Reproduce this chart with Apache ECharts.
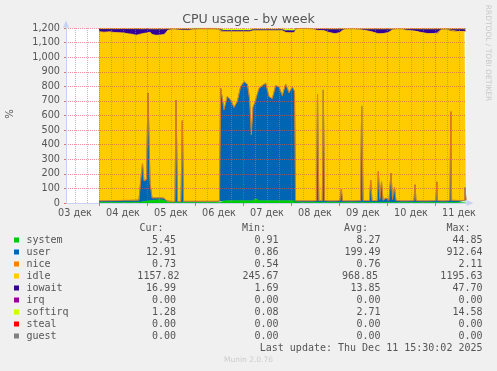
<!DOCTYPE html>
<html><head><meta charset="utf-8">
<script src="https://cdn.jsdelivr.net/npm/echarts@6/dist/echarts.min.js"></script>
<style>html,body{margin:0;padding:0;background:#f0f0f0}#c{width:497px;height:371px}</style>
</head><body><div id="c"></div>
<script>
// hours since 03 Dec 00:00
const hours = [24.0,26.5,29.5,31.5,34.0,36.5,38.5,40.5,42.5,44.0,44.75,45.75,46.5,47.75,48.5,49.5,50.5,52.5,54.5,56.5,57.5,58.5,60.5,62.0,62.5,63.25,65.0,65.65,66.25,68.5,71.0,73.5,76.5,79.5,82.0,84.25,84.85,86.5,88.15,89.85,91.5,93.15,94.85,96.5,98.15,99.25,100.15,101.0,102.35,104.0,105.65,107.35,109.0,110.65,112.35,114.0,115.65,117.35,119.0,120.65,121.75,122.25,124.5,128.5,131.5,132.75,133.25,133.9,135.65,136.15,136.75,138.5,142.0,144.5,145.15,145.75,147.5,151.5,154.75,155.35,156.0,159.25,159.85,160.5,163.15,163.65,164.4,165.25,166.0,167.5,169.0,170.0,170.75,171.75,172.5,175.5,178.0,181.5,182.0,182.5,185.0,188.5,192.5,192.9,193.3,195.0,197.5,199.5,199.9,200.3,203.5,206.75,207.0,207.5];
const system = [4,4,4,4,4,5,5,5,5,5,6,8,10,12,14,16,18,20,22,18,10,3,3,3,4,3,3,4,3,3,3,3,3,3,3,4,14,14,15,15,15,15,15,15,15,15,15,15,30,15,15,15,15,15,15,15,15,15,15,15,15,5,4,4,4,4,5,4,4,5,4,4,4,4,5,4,4,4,4,5,4,4,5,4,4,5,4,5,4,4,4,5,4,5,4,4,4,4,5,4,4,4,4,5,4,4,4,4,6,4,5,5,5,5.45];
const user = [10,10,11,11,12,12,12,13,14,14,130,260,140,150,740,120,16,14,13,15,8,4,5,6,700,8,6,560,8,8,8,8,8,8,8,8,772,624,714,691,640,680,782,817,800,700,451,640,676,770,790,805,714,700,790,780,720,800,740,780,750,10,10,10,10,12,740,12,12,770,12,10,10,12,90,10,10,10,12,660,12,12,150,12,12,210,20,140,14,30,14,200,20,100,12,10,10,12,120,12,10,10,12,140,12,10,10,14,620,14,12,12,100,12.91];
const nice = [0.7,0.7,0.7,0.7,0.7,2.0,2.0,0.7,0.7,0.7,0.7,0.7,0.7,0.7,0.7,0.7,0.7,0.7,0.7,0.7,0.7,0.7,0.7,0.7,0.7,0.7,0.7,0.7,0.7,0.7,0.7,0.7,0.7,0.7,0.7,0.7,0.7,0.7,0.7,0.7,0.7,0.7,0.7,0.7,0.7,0.7,0.7,0.7,0.7,0.7,0.7,0.7,0.7,0.7,0.7,0.7,0.7,0.7,0.7,0.7,0.7,0.7,0.7,0.7,0.7,0.7,0.7,0.7,0.7,0.7,0.7,0.7,0.7,0.7,0.7,0.7,0.7,0.7,0.7,0.7,0.7,0.7,0.7,0.7,0.7,0.7,0.7,0.7,0.7,0.7,0.7,0.7,0.7,0.7,0.7,0.7,0.7,0.7,0.7,0.7,0.7,0.7,0.7,0.7,0.7,0.7,0.7,0.7,0.7,0.7,0.7,0.7,0.7,0.73];
const idle = [1160,1157,1158,1154,1151,1147,1141,1139,1130,1136,1021,893,1014,1003,415,1035,1121,1115,1116,1121,1151,1178,1181,1180,485,1176,1176,621,1174,1173,1178,1181,1182,1182,1181,1177,388,536,445,468,519,479,377,342,359,459,708,527,476,397,377,362,453,467,377,387,447,354,412,372,404,1176,1179,1179,1177,1169,439,1167,1166,407,1165,1157,1146,1153,1079,1170,1178,1178,1173,522,1169,1161,1020,1157,1146,946,1136,1015,1143,1131,1153,979,1165,1086,1176,1178,1169,1163,1054,1163,1155,1147,1145,1017,1148,1174,1176,1169,558,1161,1158,1159,1071,1157.82];
const iowait = [20,23,21,25,27,29,35,37,45,39,36,32,30,29,25,22,37,43,41,38,24,9,6,6,6,8,9,9,9,10,6,3,2,2,3,4,8,8,8,8,8,8,8,8,8,8,8,6,6,6,6,6,6,6,6,6,6,12,14,14,12,4,3,3,4,10,11,12,12,12,13,22,33,24,19,10,3,3,5,6,8,16,18,20,31,32,33,33,32,28,22,9,4,3,3,3,10,15,15,15,24,32,32,31,29,6,4,7,10,15,18,17,17,16.99];
const softirq = [1,1,1,1,1,1,1,1,1,1,1,1,1,1,1,1,2,2,2,2,1,1,1,1,1,1,1,1,1,1,2,3,3,3,3,3,10,10,10,10,10,10,10,10,10,10,10,8,8,8,8,8,8,8,8,8,8,12,12,12,10,2,1,1,1,1,1,1,1,1,1,1,1,1,1,1,1,1,1,1,1,1,1,1,1,1,1,1,1,1,1,1,1,1,1,1,1,1,1,1,1,1,1,1,1,1,1,1,1,1,1,1.3,1.3,1.28];

const dayLabels = ['03 дек','04 дек','05 дек','06 дек','07 дек','08 дек','09 дек','10 дек','11 дек'];

const legendNames = ['system','user','nice','idle','iowait','irq','softirq','steal','guest'];
const legendColors = ['#00CC00','#0066B3','#FF8000','#FFCC00','#330099','#990099','#CCFF00','#FF0000','#808080'];
const curVals = ['5.45','12.91','0.73','1157.82','16.99','0.00','1.28','0.00','0.00'];
const minVals = ['0.91','0.86','0.54','245.67','1.69','0.00','0.08','0.00','0.00'];
const avgVals = ['8.27','199.49','0.76','968.85','13.85','0.00','2.71','0.00','0.00'];
const maxVals = ['44.85','912.64','2.11','1195.63','47.70','0.00','14.58','0.00','0.00'];

const chart = echarts.init(document.getElementById('c'), null, {renderer:'canvas'});

const T0 = Date.UTC(2025, 11, 3, 0, 0, 0);
const H = 3600 * 1000;
const tOf = h => T0 + h * H;

// half-hour slots spanning the plot (07:30 Dec 3 .. 15:30 Dec 11)
const slots = Array.from({length: 401}, (_, i) => String(i));
const isDay = i => i % 48 === 33;
const isSix = i => i % 12 === 9 && !isDay(i);
const isNoon = i => i % 48 === 9;

const axisCol = '#c9d1f5';
const mgrid = 'rgba(222,80,80,0.6)';
const grid6 = 'rgba(140,140,140,0.6)';
const txt = '#555';

function mk(name, arr, color) {
  return {
    name, type: 'line', xAxisIndex: 0, yAxisIndex: 0, stack: 'cpu',
    data: hours.map((h, i) => [tOf(h), arr[i]]),
    symbol: 'none', showSymbol: false, silent: true,
    lineStyle: {width: 0.8, color},
    areaStyle: {color, opacity: 1},
    itemStyle: {color}, z: 2
  };
}

const graphics = [];
graphics.push({type:'text', x:248.5, y:19.5, style:{text:'CPU usage - by week', align:'center', verticalAlign:'middle', fontSize:12.6, fontFamily:'DejaVu Sans', fill:txt}});
graphics.push({type:'text', x:10, y:114, rotation:Math.PI/2, style:{text:'%', align:'center', verticalAlign:'middle', fontSize:10, fontFamily:'DejaVu Sans', fill:txt}});
graphics.push({type:'text', x:488, y:53, rotation:-Math.PI/2, style:{text:'RRDTOOL / TOBI OETIKER', align:'center', verticalAlign:'middle', fontSize:7.5, fontFamily:'DejaVu Sans', fill:'#c8c8c8'}});

const mono = 'DejaVu Sans Mono';
const headers = [['Cur:',163.5],['Min:',266],['Avg:',368],['Max:',470.5]];
headers.forEach(([t, x]) => graphics.push({type:'text', x, y:228, style:{text:t, align:'right', verticalAlign:'middle', fontSize:10, fontFamily:mono, fill:txt}}));
legendNames.forEach((n, i) => {
  const y = 240 + i * 12;
  graphics.push({type:'rect', shape:{x:14, y:y-2.5, width:5, height:5}, style:{fill:legendColors[i]}});
  graphics.push({type:'text', x:26.5, y, style:{text:n, align:'left', verticalAlign:'middle', fontSize:10, fontFamily:mono, fill:txt}});
  const cols = [[curVals[i], n === 'idle' ? 179.5 : 176], [minVals[i], 278.5], [avgVals[i], n === 'idle' ? 378 : 380.5], [maxVals[i], 482.5]];
  cols.forEach(([t, x]) => graphics.push({type:'text', x, y, style:{text:t, align:'right', verticalAlign:'middle', fontSize:10, fontFamily:mono, fill:txt}}));
});
graphics.push({type:'text', x:482.5, y:348, style:{text:'Last update: Thu Dec 11 15:30:02 2025', align:'right', verticalAlign:'middle', fontSize:10, fontFamily:mono, fill:txt}});
graphics.push({type:'text', x:248.5, y:360.5, style:{text:'Munin 2.0.76', align:'center', verticalAlign:'middle', fontSize:7.5, fontFamily:'DejaVu Sans', fill:'#cccccc'}});

chart.setOption({
  animation: false,
  backgroundColor: '#f0f0f0',
  grid: {left: 66, right: 31, top: 28, bottom: 168, show: true, backgroundColor: '#ffffff', borderWidth: 0},
  xAxis: [
    {type:'time', min:tOf(7.5), max:tOf(207.5), show:false, position:'bottom'},
    {type:'category', data:slots, boundaryGap:false, position:'bottom', z:3,
      axisLine:{show:false}, axisTick:{show:false}, axisLabel:{show:false},
      splitLine:{show:true, interval:(i)=>isSix(i), lineStyle:{color:grid6, width:1, type:[1,1]}}},
    {type:'category', data:slots, boundaryGap:false, position:'bottom', z:3,
      axisLine:{show:true, onZero:false, lineStyle:{color:axisCol, width:1}, symbol:['none','triangle'], symbolSize:[6,7], symbolOffset:[0,4]},
      axisTick:{show:true, interval:(i)=>isDay(i), length:3, lineStyle:{color:'rgba(222,80,80,0.8)'}},
      axisLabel:{show:true, interval:(i)=>isNoon(i), formatter:(v)=>dayLabels[(Number(v)-9)/48] || '', color:txt, fontSize:9.7, fontFamily:'DejaVu Sans', margin:5},
      splitLine:{show:true, interval:(i)=>isDay(i), lineStyle:{color:mgrid, width:1, type:[1,1]}}}
  ],
  yAxis: {type:'value', min:0, max:1200, interval:100, z:3,
    axisLine:{show:true, onZero:false, lineStyle:{color:axisCol, width:1}, symbol:['none','triangle'], symbolSize:[6,7], symbolOffset:[0,4]},
    axisTick:{show:true, length:2, lineStyle:{color:'rgba(222,80,80,0.8)'}},
    axisLabel:{color:txt, fontSize:9.7, fontFamily:'DejaVu Sans', margin:6},
    splitLine:{show:true, lineStyle:{color:mgrid, width:1, type:[1,1]}}},
  series: [
    mk('system', system, '#00CC00'),
    mk('user', user, '#0066B3'),
    mk('nice', nice, '#FF8000'),
    mk('idle', idle, '#FFCC00'),
    mk('iowait', iowait, '#330099'),
    mk('softirq', softirq, '#CCFF00')
  ],
  graphic: graphics
});
</script></body></html>
